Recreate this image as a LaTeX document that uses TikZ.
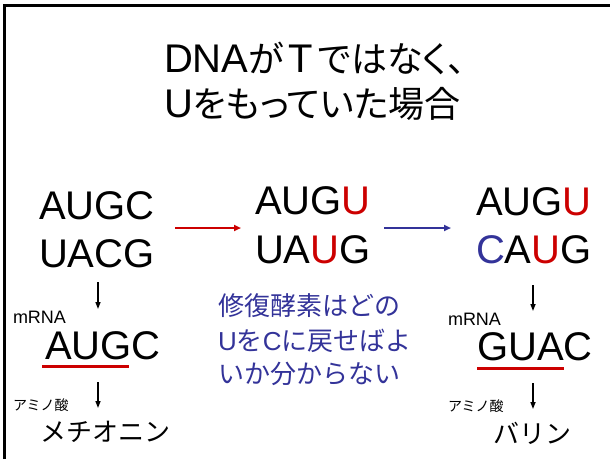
\documentclass[tikz,border=0pt]{standalone}
\usepackage{fontspec}
\setmainfont{Liberation Sans}
\newfontfamily\jpp[RawFeature=+palt]{Noto Sans CJK JP}
\newfontfamily\jpw{Noto Sans CJK JP}
\usetikzlibrary{arrows.meta}
\definecolor{myred}{RGB}{204,0,0}
\definecolor{myblue}{RGB}{51,51,153}
\newcommand\lat[1]{{\normalfont #1}}
\tikzset{
  txt/.style={anchor=base west, inner sep=0pt, outer sep=0pt},
  title/.style={txt, font=\fontsize{36}{36}\selectfont\jpp},
  big/.style={txt, font=\fontsize{40}{40}\selectfont},
  lab/.style={txt, font=\fontsize{18}{18}\selectfont},
  amino/.style={txt, font=\fontsize{14}{14}\selectfont\jpw},
  res/.style={txt, font=\fontsize{26}{26}\selectfont\jpw},
  note/.style={txt, font=\fontsize{26}{26}\selectfont\jpw, text=myblue},
  harrow/.style={line width=2pt, -{Triangle[length=7pt,width=6pt]}},
  varrow/.style={line width=1.5pt, black, -{Triangle[length=7pt,width=5pt]}},
  uline/.style={line width=3pt, myred},
  frame/.style={line width=3pt, black}
}
\begin{document}
\begin{tikzpicture}[x=1pt,y=-1pt]
\useasboundingbox (0,0) rectangle (610,459);
% frame
\coordinate (f1) at (4,459);
\coordinate (f2) at (4,5);
\coordinate (f3) at (610,5);
\draw[frame] (f1) -- (f2) -- (f3);
% title
\node[title] (t1) at (164,72) {\lat{\fontsize{40}{40}\selectfont DNA}が\hspace{5pt}\lat{\fontsize{40}{40}\selectfont T}\hspace{5pt}ではなく、};
\node[title] (t2) at (164,117) {\lat{\fontsize{40}{40}\selectfont U}をもっていた場合};
% DNA columns
\node[big] (l1) at (39,219) {AUGC};
\node[big] (l2) at (39,267) {UACG};
\node[big] (m1) at (255,214) {AUG\textcolor{myred}{U}};
\node[big] (m2) at (255,263) {UA\textcolor{myred}{U}G};
\node[big] (r1) at (476,215) {AUG\textcolor{myred}{U}};
\node[big] (r2) at (476,263) {\textcolor{myblue}{C}A\textcolor{myred}{U}G};
% horizontal arrows
\coordinate (ra1) at (175,228);
\coordinate (ra2) at (241,228);
\coordinate (ba1) at (384,228);
\coordinate (ba2) at (451,228);
\draw[harrow, myred] (ra1) -- (ra2);
\draw[harrow, myblue] (ba1) -- (ba2);
% left column
\coordinate (la1) at (98,282);
\coordinate (la2) at (98,309);
\draw[varrow] (la1) -- (la2);
\node[lab] (lm) at (13,323) {mRNA};
\node[big] (lr) at (45,359) {AUGC};
\coordinate (lu1) at (42,366);
\coordinate (lu2) at (129,366);
\draw[uline] (lu1) -- (lu2);
\coordinate (lb1) at (98,382);
\coordinate (lb2) at (98,408);
\draw[varrow] (lb1) -- (lb2);
\node[amino] (la) at (13,410) {アミノ酸};
\node[res] (lres) at (40,441) {メチオニン};
% right column
\coordinate (rc1) at (533,285);
\coordinate (rc2) at (533,311);
\draw[varrow] (rc1) -- (rc2);
\node[lab] (rm) at (448,325) {mRNA};
\node[big] (rr) at (477,360) {GUAC};
\coordinate (ru1) at (477,368);
\coordinate (ru2) at (564,368);
\draw[uline] (ru1) -- (ru2);
\coordinate (rd1) at (533,383);
\coordinate (rd2) at (533,409);
\draw[varrow] (rd1) -- (rd2);
\node[amino] (ra) at (448,411) {アミノ酸};
\node[res] (rres) at (493,443) {バリン};
% note
\node[note] (n1) at (218,315) {修復酵素はどの};
\node[note] (n2) at (218,350) {\lat{U}を\lat{C}に戻せばよ};
\node[note] (n3) at (218,383) {いか分からない};
\end{tikzpicture}
\end{document}
